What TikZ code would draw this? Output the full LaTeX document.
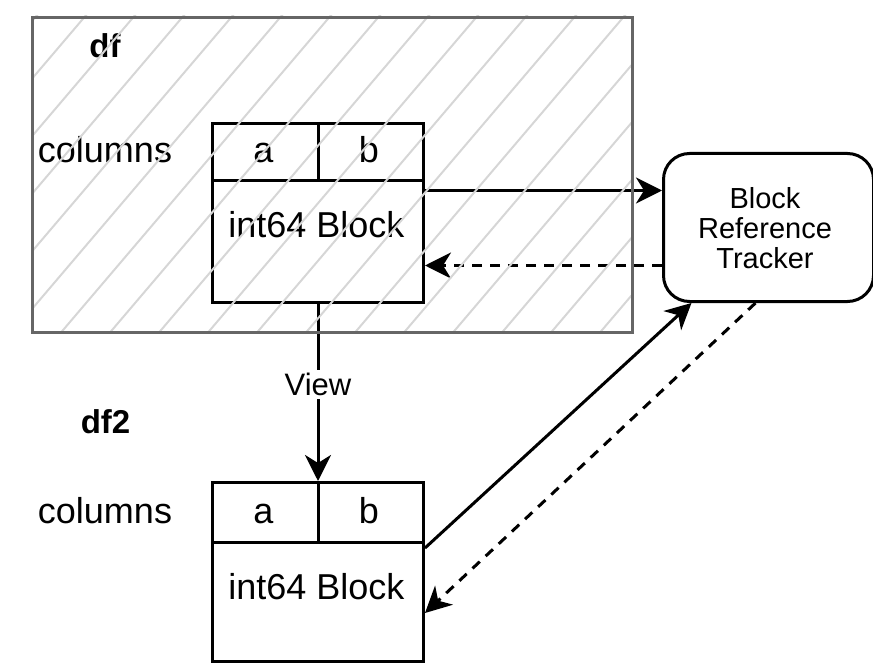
\documentclass[tikz,border=0pt]{standalone}
\usepackage{fontspec}
\setmainfont{Liberation Sans}
\usetikzlibrary{arrows.meta,calc}
\definecolor{bordergray}{HTML}{666666}
\definecolor{hatchgray}{HTML}{D6D6D6}
\begin{document}
\begin{tikzpicture}[x=1pt,y=-1pt,
  blk/.style={draw=black,line width=3pt,minimum width=211pt,minimum height=179pt,inner sep=0pt,anchor=north west},
  txt/.style={font=\fontsize{36}{40}\selectfont,inner sep=0pt,anchor=base},
  ttl/.style={font=\bfseries\fontsize{33}{38}\selectfont,inner sep=0pt,anchor=base},
  arr/.style={line width=3pt,-{Stealth[length=26pt,width=26pt,inset=8pt]}},
  dsh/.style={arr,dash pattern=on 10pt off 8pt},
  hatch/.style={draw=hatchgray,line width=2pt},
]
\useasboundingbox (0,0) rectangle (873,663);

% top block
\node[blk] (tb) at (211,122) {};
\draw[line width=3pt] ([yshift=-59pt]tb.north west) -- ([yshift=-59pt]tb.north east);
\draw[line width=3pt] (tb.north) -- ([yshift=-59pt]tb.north);
\node[txt] (ta) at (263.5,163) {a};
\node[txt] (tbb) at (369,163) {b};
\node[txt] (ti) at (316.5,237) {int64 Block};
\node[ttl] (df) at (105,58) {df};
\node[txt] (tc) at (105,163) {columns};

% bottom block
\node[blk] (bb) at (211,481) {};
\draw[line width=3pt] ([yshift=-61pt]bb.north west) -- ([yshift=-61pt]bb.north east);
\draw[line width=3pt] (bb.north) -- ([yshift=-61pt]bb.north);
\node[txt] (ba) at (263.5,523) {a};
\node[txt] (bbb) at (369,523) {b};
\node[txt] (bi) at (316.5,599) {int64 Block};
\node[ttl] (df2) at (105.5,433) {df2};
\node[txt] (bc) at (105,523) {columns};

% tracker
\node[draw,line width=3pt,rounded corners=26pt,minimum width=210pt,minimum height=148pt,
      anchor=north west,inner sep=0pt] (tr) at (662,152) {};
\node[align=center,font=\fontsize{29}{30}\selectfont,inner sep=0pt] (trt) at (765,228)
      {Block\\Reference\\Tracker};

% connectors
\draw[arr] ([yshift=22.5pt]tb.east) -- ([yshift=37pt]tr.west);
\draw[dsh] ([yshift=-38pt]tr.west) -- ([yshift=-52.5pt]tb.east);
\draw[arr] (tb.south) -- node[pos=0.455,fill=white,inner sep=3pt,font=\fontsize{31}{34}\selectfont] (view) {View} (bb.north);
\draw[arr] ([yshift=24pt]bb.east) -- ([xshift=-77pt]tr.south);
\draw[dsh] ([xshift=-13pt]tr.south) -- ([yshift=-41pt]bb.east);

% hatched frame drawn over everything
\begin{scope}
  \clip (31,16) rectangle (631,331);
  \foreach \k in {-2,...,18} {
    \draw[hatch] ({99.0+49*\k},0) -- ({-198.9+49*\k},350);
  }
\end{scope}
\node[draw=bordergray,line width=3pt,minimum width=600pt,minimum height=315pt,
      anchor=north west,inner sep=0pt] (frame) at (31,16) {};
\end{tikzpicture}
\end{document}
